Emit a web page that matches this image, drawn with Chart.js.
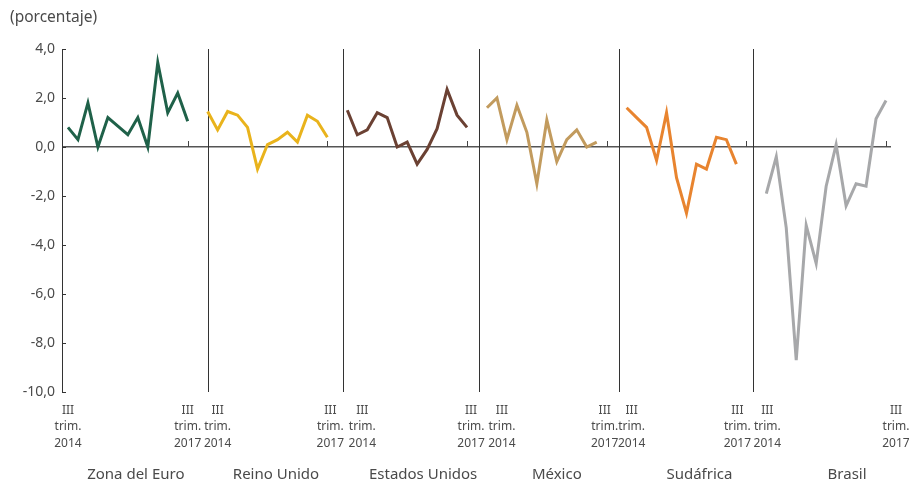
<!DOCTYPE html>
<html><head><meta charset="utf-8">
<script src="https://cdn.jsdelivr.net/npm/chart.js@4/dist/chart.umd.min.js"></script>
<style>html,body{margin:0;padding:0;background:#fff}#wrap{width:911px;height:481px}</style>
</head><body><div id="wrap"><canvas id="c" width="911" height="481"></canvas></div>
<script>
// ---- data ----
const panels = ['Zona del Euro', 'Reino Unido', 'Estados Unidos', 'México', 'Sudáfrica', 'Brasil'];
const quarters = ['III 2014','IV 2014','I 2015','II 2015','III 2015','IV 2015','I 2016','II 2016','III 2016','IV 2016','I 2017','II 2017','III 2017'];
const zonaEuro      = [0.8, 0.3, 1.8, 0.0, 1.2, 0.85, 0.5, 1.2, 0.0, 3.45, 1.4, 2.2, 1.05];
const reinoUnido    = [1.45, 0.7, 1.45, 1.3, 0.8, -0.9, 0.1, 0.3, 0.6, 0.2, 1.3, 1.05, 0.4];
const estadosUnidos = [1.5, 0.5, 0.7, 1.4, 1.2, 0.0, 0.2, -0.7, -0.1, 0.75, 2.35, 1.3, 0.8];
const mexico        = [1.6, 2.0, 0.3, 1.7, 0.6, -1.5, 1.1, -0.6, 0.3, 0.7, 0.0, 0.2, null];
const sudafrica     = [1.6, 1.2, 0.8, -0.55, 1.4, -1.25, -2.7, -0.7, -0.9, 0.4, 0.3, -0.7, null];
const brasil        = [-1.9, -0.4, -3.3, -8.7, -3.2, -4.75, -1.6, 0.1, -2.4, -1.5, -1.6, 1.15, 1.9];
const seriesList = [zonaEuro, reinoUnido, estadosUnidos, mexico, sudafrica, brasil];
const startLabel = ['III', 'trim.', '2014'];
const endLabel = ['III', 'trim.', '2017'];
const yTicks = [4, 2, 0, -2, -4, -6, -8, -10];

// ---- layout / style (not data) ----
const colors = ['#1f6149', '#e9b31c', '#6b4133', '#c29b5e', '#e8842f', '#a7a8aa'];
const slotsPerPanel = 14;
const labelPos = [0, 12.0, 15.0, 26.3, 29.5, 40.4, 43.5, 53.8, 56.5, 67.1, 70.1, 83.0];
const namePos = [6.8, 20.85, 35.6, 49.0, 63.3, 78.1];
const separatorPos = [14.03, 27.57, 41.2, 55.23, 68.67];
const endTickPos = panels.map((_, p) => p * slotsPerPanel + 12);
const textColor = '#4a4a4a';
const fontFam = '"Noto Sans", "Open Sans", sans-serif';

const datasets = seriesList.map((s, p) => ({
  label: panels[p],
  data: s.map((v, q) => ({ x: p * slotsPerPanel + q, y: v })),
  borderColor: colors[p],
  backgroundColor: colors[p],
  borderWidth: 3,
  pointRadius: 0,
  tension: 0,
  spanGaps: false,
  clip: false
}));

const decor = {
  id: 'decor',
  beforeDatasetsDraw(chart) {
    const { ctx, chartArea, scales } = chart;
    const x = scales.x, y = scales.y;
    ctx.save();
    ctx.strokeStyle = '#333';
    ctx.lineWidth = 1;
    separatorPos.forEach(v => {
      const px = Math.round(x.getPixelForValue(v)) + 0.5;
      ctx.beginPath();
      ctx.moveTo(px, chartArea.top);
      ctx.lineTo(px, chartArea.bottom);
      ctx.stroke();
    });
    const y0 = y.getPixelForValue(0);
    ctx.strokeStyle = '#444';
    endTickPos.forEach(v => {
      const px = Math.round(x.getPixelForValue(v)) + 0.5;
      ctx.beginPath();
      ctx.moveTo(px, y0);
      ctx.lineTo(px, y0 - 6);
      ctx.stroke();
    });
    ctx.strokeStyle = '#333';
    yTicks.forEach(v => {
      const py = Math.round(y.getPixelForValue(v)) + 0.5;
      ctx.beginPath();
      ctx.moveTo(chartArea.left, py);
      ctx.lineTo(chartArea.left + 4, py);
      ctx.stroke();
    });
    ctx.restore();
  },
  afterDraw(chart) {
    const { ctx } = chart;
    ctx.save();
    ctx.fillStyle = textColor;
    ctx.font = '15.5px ' + fontFam;
    ctx.textBaseline = 'middle';
    ctx.textAlign = 'left';
    ctx.fillText('(porcentaje)', 10, 18);
    ctx.restore();
  }
};

const fitX = s => { s.paddingLeft = 0; s.paddingRight = 0; s.height = 60; };
const fitNames = s => { s.paddingLeft = 0; s.paddingRight = 0; s.height = 29; };

new Chart(document.getElementById('c'), {
  type: 'line',
  data: { datasets },
  plugins: [decor],
  options: {
    responsive: false,
    animation: false,
    devicePixelRatio: 1,
    layout: { padding: { top: 49, right: 20, bottom: 0, left: 0 } },
    plugins: { legend: { display: false }, tooltip: { enabled: false }, title: { display: false } },
    scales: {
      x: {
        type: 'linear', position: 'bottom', min: -0.6, max: 82.5,
        grid: { display: false, drawTicks: false }, border: { display: false },
        afterBuildTicks: s => { s.ticks = labelPos.map(v => ({ value: v })); },
        afterFit: fitX,
        ticks: {
          autoSkip: false, maxRotation: 0, padding: 10, color: textColor,
          font: { family: fontFam, size: 12, lineHeight: 1.375 },
          callback: (v, i) => (i % 2 === 0 ? startLabel : endLabel)
        }
      },
      names: {
        type: 'linear', position: 'bottom', min: -0.6, max: 82.5,
        grid: { display: false, drawTicks: false }, border: { display: false },
        afterBuildTicks: s => { s.ticks = namePos.map(v => ({ value: v })); },
        afterFit: fitNames,
        ticks: {
          autoSkip: false, maxRotation: 0, padding: 14, color: textColor,
          font: { family: fontFam, size: 15, lineHeight: 1.2 },
          callback: (v, i) => panels[i]
        }
      },
      y: {
        min: -10, max: 4,
        afterBuildTicks: s => { s.ticks = yTicks.map(v => ({ value: v })); },
        afterFit: s => { s.width = 62; },
        border: { display: true, color: '#333', width: 1 },
        grid: {
          drawTicks: false,
          color: c => (c.tick && c.tick.value === 0 ? '#555' : 'rgba(0,0,0,0)'),
          lineWidth: c => (c.tick && c.tick.value === 0 ? 1.5 : 0)
        },
        ticks: {
          padding: 7, color: textColor,
          font: { family: fontFam, size: 14 },
          callback: v => v.toFixed(1).replace('.', ',')
        }
      }
    }
  }
});
</script>
</body></html>
